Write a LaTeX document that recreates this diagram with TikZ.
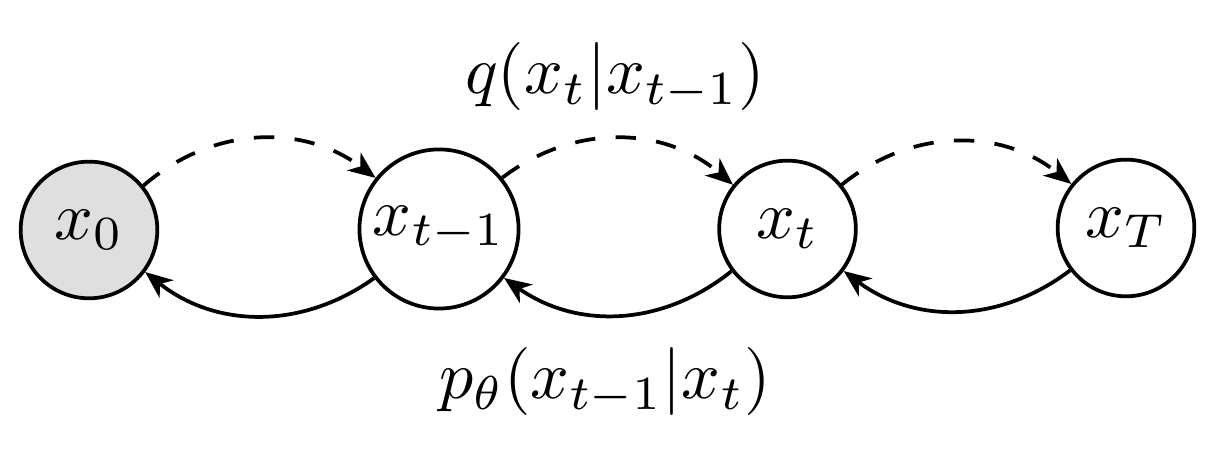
\documentclass[tikz,border=0pt]{standalone}
\usetikzlibrary{arrows.meta}
\begin{document}
\begin{tikzpicture}[x=0.14706pt,y=-0.14706pt,
  state/.style={circle,draw,line width=0.55pt,inner sep=0pt,minimum size=20.1pt},
  obs/.style={state,fill=gray!25},
  lab/.style={inner sep=0pt},
  edge/.style={line width=0.55pt,-{Stealth[length=4pt,width=3.3pt,inset=1.2pt]}}]
\useasboundingbox (0,0) rectangle (1216,458);
\node[obs] (x0) at (89,230) {$x_0$};
\node[state,minimum size=23.4pt] (xtm1) at (439,229) {$x_{t-1}$};
\node[state] (xt) at (787.5,229) {$x_t$};
\node[state] (xT) at (1126,228) {$x_T$};
\draw[edge,dashed] (x0) to[bend left=39] (xtm1);
\draw[edge,dashed] (xtm1) to[bend left=39] (xt);
\draw[edge,dashed] (xt) to[bend left=39] (xT);
\draw[edge] (xtm1) to[bend left=37] (x0);
\draw[edge] (xt) to[bend left=37] (xtm1);
\draw[edge] (xT) to[bend left=37] (xt);
\node[lab] (q) at (615,77) {$q(x_t|x_{t-1})$};
\node[lab] (p) at (605,382) {$p_\theta(x_{t-1}|x_t)$};
\end{tikzpicture}
\end{document}
